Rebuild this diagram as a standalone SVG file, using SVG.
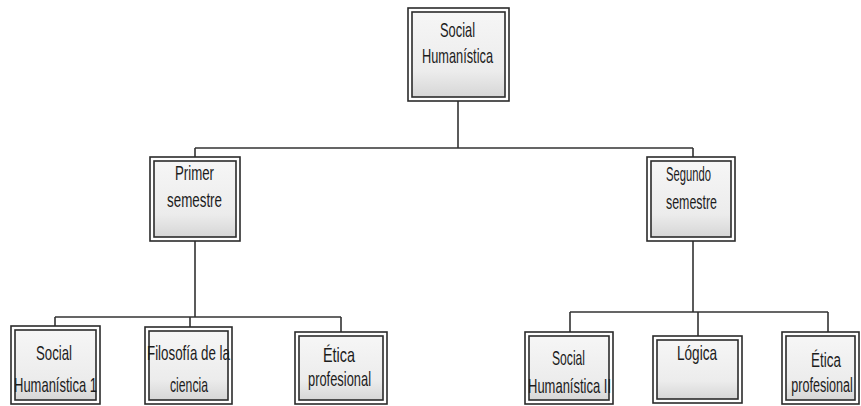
<svg xmlns="http://www.w3.org/2000/svg" width="861" height="406" viewBox="0 0 861 406">
<defs>
<linearGradient id="fillg" x1="0" y1="0" x2="0" y2="1">
<stop offset="0" stop-color="#f6f6f6"/>
<stop offset="0.7" stop-color="#ececec"/>
<stop offset="1" stop-color="#d6d6d6"/>
</linearGradient>
</defs>
<style>
.outer{fill:#ffffff;stroke:#2b2b2b;stroke-width:1.6}
.inner{fill:url(#fillg);stroke:#2b2b2b;stroke-width:1.6}
.t{font-family:"Liberation Sans",Arial,sans-serif;font-size:21px;fill:#1c1c1c;text-anchor:start}
.m{text-anchor:middle}
.c{fill:none;stroke:#333;stroke-width:1.6}
</style>
<rect width="861" height="406" fill="#ffffff"/>
<g id="connectors">
<path class="c" d="M458,101 V148 M195,148 H693 M195,148 V157 M693,148 V157"/>
<path class="c" d="M195,241 V317 M55,317 H341 M55,317 V326 M190,317 V327 M341,317 V332"/>
<path class="c" d="M693,241 V312 M570,312 H828 M570,312 V332 M698,312 V336 M828,312 V332"/>
</g>
<g id="n_social">
<rect class="outer" x="408" y="8" width="101" height="93"/>
<rect class="inner" x="412" y="12" width="93" height="85"/>
<text class="t" x="440" y="37" textLength="35" lengthAdjust="spacingAndGlyphs">Social</text>
<text class="t" x="422" y="63" textLength="71" lengthAdjust="spacingAndGlyphs">Humanística</text>
</g>
<g id="n_primer">
<rect class="outer" x="150" y="157" width="90" height="84"/>
<rect class="inner" x="154" y="161" width="82" height="76"/>
<text class="t" x="175" y="180" textLength="39" lengthAdjust="spacingAndGlyphs">Primer</text>
<text class="t" x="167" y="207" textLength="55" lengthAdjust="spacingAndGlyphs">semestre</text>
</g>
<g id="n_segundo">
<rect class="outer" x="647" y="157" width="88" height="84"/>
<rect class="inner" x="651" y="161" width="80" height="76"/>
<text class="t" x="666" y="181" textLength="45" lengthAdjust="spacingAndGlyphs">Segundo</text>
<text class="t" x="666" y="209" textLength="51" lengthAdjust="spacingAndGlyphs">semestre</text>
</g>
<g id="n_sh1">
<rect class="outer" x="11" y="326" width="89" height="78"/>
<rect class="inner" x="15" y="330" width="81" height="70"/>
<text class="t" x="36" y="360" textLength="36" lengthAdjust="spacingAndGlyphs">Social</text>
<text class="t" x="14" y="392" textLength="83" lengthAdjust="spacingAndGlyphs">Humanística 1</text>
</g>
<g id="n_filosofia">
<rect class="outer" x="145" y="327" width="87" height="77"/>
<rect class="inner" x="149" y="331" width="79" height="69"/>
<text class="t" x="147" y="360" textLength="83" lengthAdjust="spacingAndGlyphs">Filosofía de la</text>
<text class="t" x="170" y="392" textLength="38" lengthAdjust="spacingAndGlyphs">ciencia</text>
</g>
<g id="n_etica1">
<rect class="outer" x="295" y="332" width="92" height="72"/>
<rect class="inner" x="299" y="336" width="84" height="64"/>
<text class="t" x="323" y="362" textLength="32" lengthAdjust="spacingAndGlyphs">Ética</text>
<text class="t" x="308" y="386" textLength="63" lengthAdjust="spacingAndGlyphs">profesional</text>
</g>
<g id="n_sh2">
<rect class="outer" x="525" y="332" width="88" height="72"/>
<rect class="inner" x="529" y="336" width="80" height="64"/>
<text class="t" x="552" y="365" textLength="33" lengthAdjust="spacingAndGlyphs">Social</text>
<text class="t" x="528" y="393" textLength="83" lengthAdjust="spacingAndGlyphs">Humanística II</text>
</g>
<g id="n_logica">
<rect class="outer" x="653" y="336" width="89" height="67"/>
<rect class="inner" x="657" y="340" width="81" height="59"/>
<text class="t" x="677" y="360" textLength="40" lengthAdjust="spacingAndGlyphs">Lógica</text>
</g>
<g id="n_etica2">
<rect class="outer" x="782" y="332" width="77" height="72"/>
<rect class="inner" x="786" y="336" width="69" height="64"/>
<text class="t m" transform="translate(826,367) scale(0.64,1)">Ética</text>
<text class="t m" transform="translate(822,392) scale(0.6,1)">profesional</text>
</g>
</svg>
